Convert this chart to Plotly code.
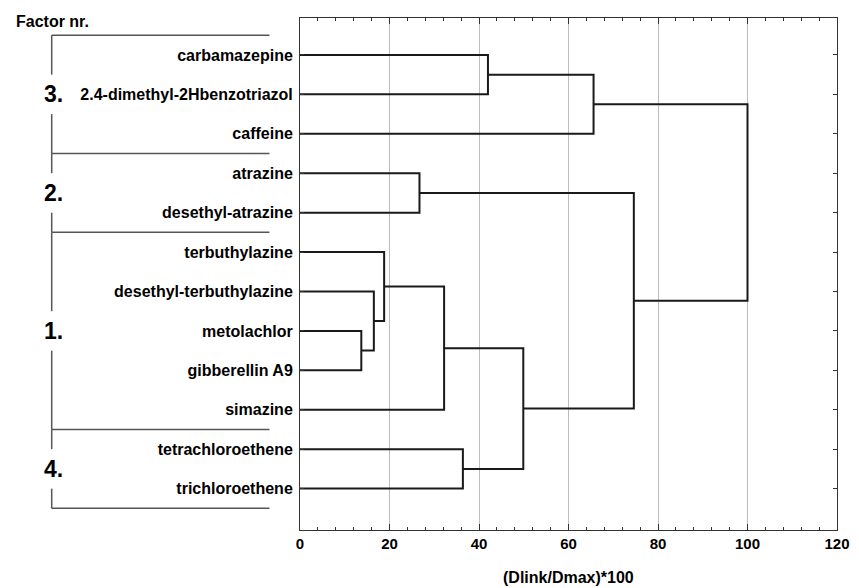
import plotly.graph_objects as go

# ---- data ----
leaves = ["carbamazepine", "2.4-dimethyl-2Hbenzotriazol", "caffeine", "atrazine",
          "desethyl-atrazine", "terbuthylazine", "desethyl-terbuthylazine",
          "metolachlor", "gibberellin A9", "simazine", "tetrachloroethene",
          "trichloroethene"]
# linkage: node ids 0..11 are leaves, 12.. are merges in this order
merge_a = [7, 6, 5, 3, 14, 10, 0, 16, 18, 15, 20]
merge_b = [8, 12, 13, 4, 9, 11, 1, 17, 2, 19, 21]
merge_h = [13.7, 16.5, 18.8, 26.7, 32.2, 36.4, 42.0, 49.9, 65.6, 74.6, 100.0]

factor_labels = ["3.", "2.", "1.", "4."]
factor_sizes = [3, 2, 5, 2]

x_ticks = [0, 20, 40, 60, 80, 100, 120]
x_title = "(Dlink/Dmax)*100"

# ---- layout constants (page has an 8px body margin) ----
OFF = 8
W, H = 859 - OFF, 588 - OFF
ML, MT = 300 - OFF, 17 - OFF
MR, MB = 14, 58
PW, PH = W - ML - MR, H - MT - MB
Y0, Y1 = 13.05, 0.063  # reversed y range (bottom, top)

FONT = "Liberation Sans, Arial, sans-serif"

# ---- dendrogram geometry from linkage ----
pos = {i: (0.0, float(i + 1)) for i in range(len(leaves))}
xs, ys = [], []
for k, (a, b, h) in enumerate(zip(merge_a, merge_b, merge_h)):
    xa, ya = pos[a]
    xb, yb = pos[b]
    xs += [xa, h, h, xb, None]
    ys += [ya, ya, yb, yb, None]
    pos[len(leaves) + k] = (h, (ya + yb) / 2)

fig = go.Figure()
fig.add_trace(go.Scatter(x=xs, y=ys, mode="lines",
                         line=dict(color="#1a1a1a", width=2),
                         hoverinfo="skip", showlegend=False))


def py(v):
    return (Y0 - v) / (Y0 - Y1)


def px(p):  # page pixel -> paper x
    return (p - OFF - ML) / PW


def pyp(p):  # page pixel -> paper y
    return 1 - (p - OFF - MT) / PH


shapes = []
annotations = []
bx0, bx1 = px(48), px(269)
lc = dict(color="#555555", width=1.5)
start = 0.5
for lab, n in zip(factor_labels, factor_sizes):
    end = start + n
    mid = (start + end) / 2
    shapes.append(dict(type="line", xref="paper", yref="paper",
                       x0=bx0, x1=bx1, y0=py(start), y1=py(start), line=lc))
    shapes.append(dict(type="line", xref="paper", yref="paper",
                       x0=bx0, x1=bx0, y0=py(start), y1=py(mid - 0.5), line=lc))
    shapes.append(dict(type="line", xref="paper", yref="paper",
                       x0=bx0, x1=bx0, y0=py(mid + 0.5), y1=py(end), line=lc))
    annotations.append(dict(text=lab, xref="paper", yref="paper",
                            x=px(50), y=py(mid), xanchor="center", yanchor="middle",
                            showarrow=False,
                            font=dict(family=FONT, size=23, color="black", weight="bold")))
    start = end
shapes.append(dict(type="line", xref="paper", yref="paper",
                   x0=bx0, x1=bx1, y0=py(start), y1=py(start), line=lc))

annotations.append(dict(text="Factor nr.", xref="paper", yref="paper",
                        x=px(10), y=pyp(21), xanchor="left", yanchor="middle",
                        showarrow=False,
                        font=dict(family=FONT, size=16, color="black", weight="bold")))
annotations.append(dict(text=x_title, xref="paper", yref="paper",
                        x=0.5, y=pyp(578), xanchor="center", yanchor="middle",
                        showarrow=False,
                        font=dict(family=FONT, size=16, color="black", weight="bold")))

fig.update_layout(
    width=W, height=H,
    margin=dict(l=ML, r=MR, t=MT, b=MB),
    paper_bgcolor="white", plot_bgcolor="white",
    shapes=shapes, annotations=annotations,
    showlegend=False,
)
fig.update_xaxes(
    range=[0, 120], tickvals=x_ticks, ticktext=[str(v) for v in x_ticks],
    ticks="inside", ticklen=6, tickwidth=1, tickcolor="#333",
    minor=dict(dtick=4, ticks="inside", ticklen=3, tickcolor="#333", showgrid=False),
    showgrid=True, gridcolor="#bdbdbd", gridwidth=1,
    showline=True, linecolor="#333", linewidth=1, mirror="ticks",
    zeroline=False,
    tickfont=dict(family=FONT, size=15, color="black", weight="bold"),
)
fig.update_yaxes(
    range=[Y0, Y1], tickvals=list(range(1, len(leaves) + 1)), ticktext=leaves,
    ticks="inside", ticklen=4, tickwidth=1, tickcolor="#333",
    ticklabelstandoff=3,
    showgrid=False, zeroline=False,
    showline=True, linecolor="#333", linewidth=1, mirror="ticks",
    tickfont=dict(family=FONT, size=16, color="black", weight="bold"),
)

fig.write_html("out.html")
